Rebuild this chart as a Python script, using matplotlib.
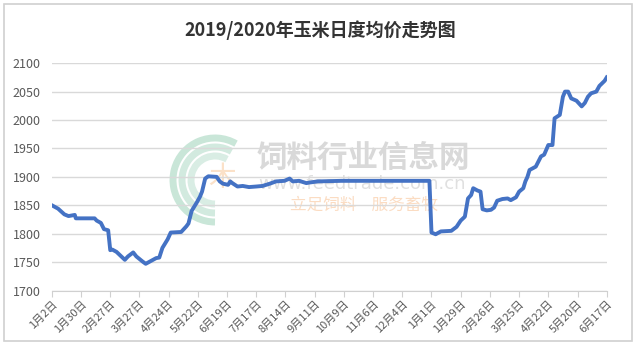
import numpy as np
import pandas as pd
import matplotlib
matplotlib.use("Agg")
import matplotlib.pyplot as plt
from matplotlib.patches import Rectangle, Arc

plt.rcParams['font.family'] = ['Noto Sans CJK SC', 'DejaVu Sans']

# readings of the daily average corn price (yuan/t)
dates = [
    "2019-01-02", "2019-01-08", "2019-01-14", "2019-01-18", "2019-01-24", "2019-01-25",
    "2019-02-12", "2019-02-14", "2019-02-18", "2019-02-21", "2019-02-25", "2019-02-27",
    "2019-03-01", "2019-03-05", "2019-03-13", "2019-03-16", "2019-03-21", "2019-03-24",
    "2019-03-30", "2019-04-02", "2019-04-07", "2019-04-12", "2019-04-15", "2019-04-18",
    "2019-04-23", "2019-04-26", "2019-05-06", "2019-05-11", "2019-05-13", "2019-05-16",
    "2019-05-21", "2019-05-24", "2019-05-26", "2019-05-29", "2019-06-01", "2019-06-09",
    "2019-06-12", "2019-06-15", "2019-06-20", "2019-06-22", "2019-06-24", "2019-06-29",
    "2019-07-04", "2019-07-10", "2019-07-17", "2019-07-23", "2019-07-30", "2019-08-05",
    "2019-08-13", "2019-08-18", "2019-08-21", "2019-08-27", "2019-09-03", "2019-09-06",
    "2019-09-14", "2019-10-07", "2019-12-30",
    "2020-01-01", "2020-01-05", "2020-01-10", "2020-01-20", "2020-01-25", "2020-01-29",
    "2020-02-02", "2020-02-05", "2020-02-08", "2020-02-10", "2020-02-14", "2020-02-17",
    "2020-02-19", "2020-02-23", "2020-02-27", "2020-03-01", "2020-03-04", "2020-03-09",
    "2020-03-14", "2020-03-17", "2020-03-22", "2020-03-25", "2020-03-29", "2020-03-31",
    "2020-04-02", "2020-04-04", "2020-04-07", "2020-04-10", "2020-04-15", "2020-04-18",
    "2020-04-22", "2020-04-26", "2020-04-28", "2020-05-03", "2020-05-06", "2020-05-08",
    "2020-05-11", "2020-05-14", "2020-05-19", "2020-05-24", "2020-05-27", "2020-05-30",
    "2020-06-02", "2020-06-07", "2020-06-10", "2020-06-15", "2020-06-17",
]
prices = [
    1850, 1844, 1834, 1831, 1833, 1827,
    1827, 1823, 1819, 1808, 1806, 1771,
    1772, 1768, 1754, 1760, 1767, 1760,
    1751, 1747, 1752, 1757, 1758, 1775,
    1790, 1802, 1803, 1813, 1818, 1840,
    1855, 1865, 1874, 1897, 1901, 1900,
    1892, 1888, 1886, 1892, 1889, 1883,
    1884, 1882, 1883, 1884, 1888, 1892,
    1893, 1897, 1892, 1893, 1889, 1890,
    1892, 1893, 1893,
    1802, 1799, 1804, 1805, 1812, 1823,
    1830, 1862, 1868, 1880, 1876, 1874,
    1843, 1841, 1842, 1846, 1858, 1861,
    1862, 1859, 1864, 1874, 1880, 1892,
    1900, 1912, 1915, 1918, 1936, 1939,
    1956, 1956, 2003, 2009, 2041, 2050,
    2050, 2038, 2034, 2024, 2030, 2041,
    2047, 2050, 2060, 2069, 2075,
]
tick_dates = pd.date_range("2019-01-02", "2020-06-17", freq="28D")
yticks = [1700, 1750, 1800, 1850, 1900, 1950, 2000, 2050, 2100]

x = pd.to_datetime(dates)

fig = plt.figure(figsize=(6.4, 3.53), dpi=100)
ax = fig.add_axes([0.081, 0.177, 0.867, 0.644])

# outer frame like the exported chart
fig.patches.append(Rectangle((0.006, 0.035), 0.982, 0.955, transform=fig.transFigure,
                             fill=False, edgecolor='#d0d0d0', linewidth=1.2))

# faint watermark
wm_ax = fig.add_axes([0, 0, 1, 1], zorder=0)
wm_ax.set_xlim(0, 640)
wm_ax.set_ylim(353, 0)
wm_ax.axis('off')
for r, c in [(42, '#c9e6d8'), (33, '#d2eadf'), (24, '#d9ede4')]:
    wm_ax.add_patch(Arc((215, 180), 2 * r, 2 * r, theta1=90, theta2=300,
                        color=c, linewidth=5))
wm_ax.text(222, 178, "木", fontsize=20, color='#fbe1c8', ha='center', va='center')
wm_ax.text(363, 158, "饲料行业信息网", fontsize=22, color='#d9d9d9', ha='center',
           va='center', fontweight='bold')
wm_ax.text(362, 184, "www.feedtrade.com.cn", fontsize=13, color='#e0e0e0', ha='center',
           va='center', family=['DejaVu Sans'])
wm_ax.text(364, 205, "立足饲料    服务畜牧", fontsize=12, color='#fbdcc2', ha='center',
           va='center', fontstyle='italic')

ax.set_zorder(1)
ax.patch.set_alpha(0)
ax.plot(x, prices, color='#4472c4', linewidth=2.8, solid_joinstyle='round', zorder=3)

ax.set_xlim(tick_dates[0], tick_dates[-1])
ax.set_ylim(1700, 2100)
ax.set_yticks(yticks)
ax.set_xticks(tick_dates)
ax.set_xticklabels([f"{d.month}月{d.day}日" for d in tick_dates], rotation=45,
                   ha='right', rotation_mode='anchor', fontsize=8, color='#595959')
ax.tick_params(axis='y', length=0, labelsize=9, labelcolor='#595959', pad=8)
ax.tick_params(axis='x', length=4, color='#d0d0d0', pad=2)
ax.grid(axis='y', color='#d9d9d9', linewidth=1)
for s in ['top', 'right', 'left']:
    ax.spines[s].set_visible(False)
ax.spines['bottom'].set_color('#d0d0d0')

fig.text(0.5, 0.915, "2019/2020年玉米日度均价走势图", ha='center', va='center',
         fontsize=13, fontweight='bold', color='#333333')

fig.savefig("out.png", dpi=100)
